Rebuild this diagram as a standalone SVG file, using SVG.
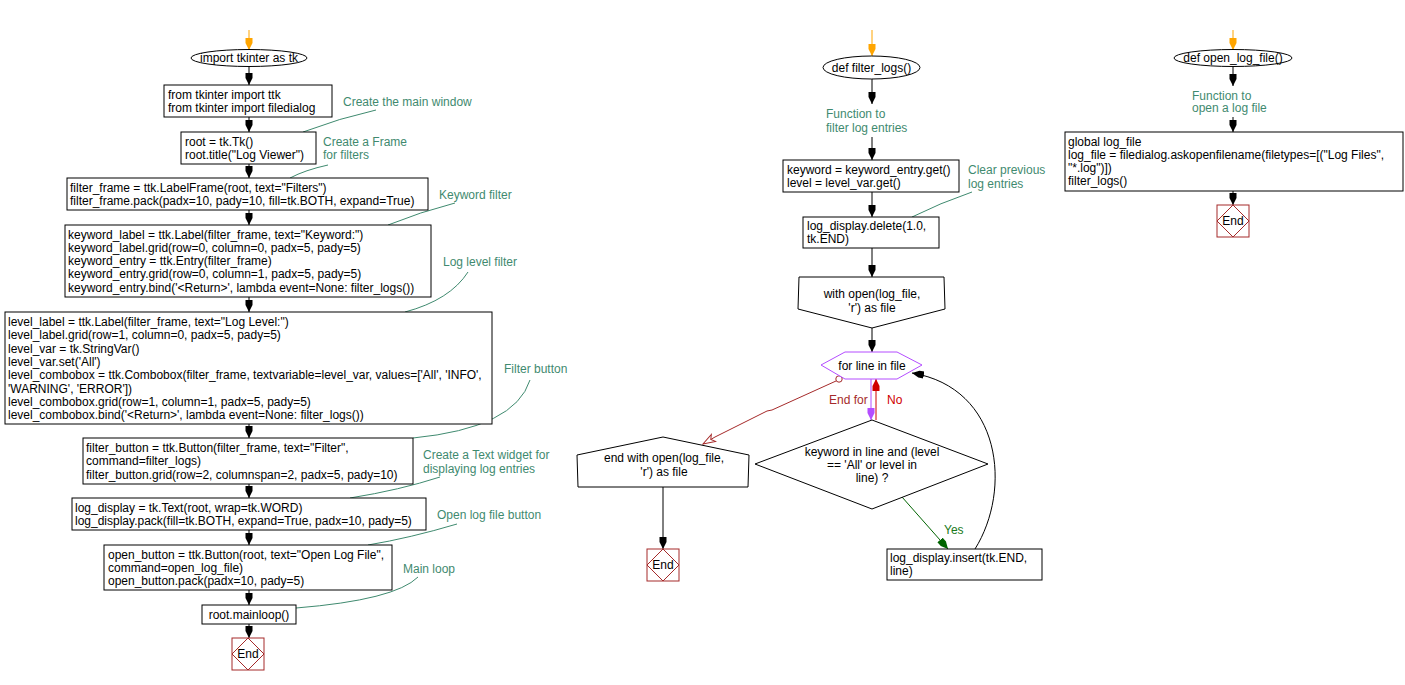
<svg xmlns="http://www.w3.org/2000/svg" width="1405" height="685" viewBox="0 0 1405 685">
<style>
text{font-family:"Liberation Sans",Arial,sans-serif;font-size:12px;fill:#000}
.box{fill:#fff;stroke:#000;stroke-width:1}
.cm{fill:#3f8a6f}
.cl{fill:none;stroke:#3f8a6f;stroke-width:1}
.ln{fill:none;stroke:#000;stroke-width:1}
.or{fill:none;stroke:#ffa500;stroke-width:1}
.endbox{fill:#fff;stroke:#a52a2a;stroke-width:1}
.enddia{fill:none;stroke:#a52a2a;stroke-width:1}
.mid{text-anchor:middle}
</style>
<defs>
<marker id="ah" markerUnits="userSpaceOnUse" viewBox="0 -5 13 10" markerWidth="13" markerHeight="10" refX="12" refY="0" orient="auto"><path d="M0,-3.5 L5,-3.5 L12,0 L5,3.5 L0,3.5 Z" fill="#000"/></marker>
<marker id="aho" markerUnits="userSpaceOnUse" viewBox="0 -5 13 10" markerWidth="13" markerHeight="10" refX="12" refY="0" orient="auto"><path d="M0,-3.5 L5,-3.5 L12,0 L5,3.5 L0,3.5 Z" fill="#ffa500"/></marker>
<marker id="ahp" markerUnits="userSpaceOnUse" viewBox="0 -5 13 10" markerWidth="13" markerHeight="10" refX="12" refY="0" orient="auto"><path d="M0,-3.5 L5,-3.5 L12,0 L5,3.5 L0,3.5 Z" fill="#b44dff"/></marker>
<marker id="ahr" markerUnits="userSpaceOnUse" viewBox="0 -5 13 10" markerWidth="13" markerHeight="10" refX="12" refY="0" orient="auto"><path d="M0,-3.5 L5,-3.5 L12,0 L5,3.5 L0,3.5 Z" fill="#d00000"/></marker>
<marker id="ahg" markerUnits="userSpaceOnUse" viewBox="0 -5 13 10" markerWidth="13" markerHeight="10" refX="12" refY="0" orient="auto"><path d="M0,-3.5 L5,-3.5 L12,0 L5,3.5 L0,3.5 Z" fill="#006400"/></marker>
<marker id="ahb" markerUnits="userSpaceOnUse" viewBox="0 -6 14 12" markerWidth="14" markerHeight="12" refX="13" refY="0" orient="auto"><path d="M1,-4 L13,0 L1,4 L4,0 Z" fill="#fff" stroke="#a52a2a" stroke-width="1"/></marker>
</defs>

<g id="connectors">
<!-- left column -->
<path class="or" d="M249,30 L249,50" marker-end="url(#aho)"/>
<path class="ln" d="M249,66 L249,85" marker-end="url(#ah)"/>
<path class="ln" d="M249,117 L249,132" marker-end="url(#ah)"/>
<path class="ln" d="M249,164 L249,178" marker-end="url(#ah)"/>
<path class="ln" d="M249,210 L249,225" marker-end="url(#ah)"/>
<path class="ln" d="M249,297 L249,312" marker-end="url(#ah)"/>
<path class="ln" d="M249,424 L249,438" marker-end="url(#ah)"/>
<path class="ln" d="M249,484 L249,498" marker-end="url(#ah)"/>
<path class="ln" d="M249,530 L249,545" marker-end="url(#ah)"/>
<path class="ln" d="M249,590 L249,605" marker-end="url(#ah)"/>
<path class="ln" d="M249,624 L249,638" marker-end="url(#ah)"/>
<!-- comment lines left -->
<path class="cl" d="M376,110 Q340,118 303,132"/>
<path class="cl" d="M328,165 Q305,170 290,178"/>
<path class="cl" d="M455,203 Q420,212 388,225"/>
<path class="cl" d="M468,272 Q450,300 405,312"/>
<path class="cl" d="M530,380 Q515,428 413,438"/>
<path class="cl" d="M440,477 Q400,490 350,498"/>
<path class="cl" d="M457,524 Q410,538 368,545"/>
<path class="cl" d="M418,577 Q395,600 296,608"/>
<!-- middle column -->
<path class="or" d="M872,30 L872,56" marker-end="url(#aho)"/>
<path class="ln" d="M872,79 L872,104" marker-end="url(#ah)"/>
<path class="ln" d="M872,137 L872,160" marker-end="url(#ah)"/>
<path class="cl" d="M972,192 Q940,203 912,217"/>
<path class="ln" d="M872,192 L872,217" marker-end="url(#ah)"/>
<path class="ln" d="M872,248 L872,277" marker-end="url(#ah)"/>
<path class="ln" d="M872,328 L872,352" marker-end="url(#ah)"/>
<path fill="none" stroke="#b44dff" d="M871,379 L871,420" marker-end="url(#ahp)"/>
<path fill="none" stroke="#d00000" d="M876,420 L876,379" marker-end="url(#ahr)"/>
<path fill="none" stroke="#006400" d="M902,497 L948,549" marker-end="url(#ahg)"/>
<path class="ln" d="M975,549 C1012,490 1002,388 912,373" marker-end="url(#ah)"/>
<path fill="none" stroke="#a52a2a" d="M836,381 L772,410 L767,411 L715,437 L703,444" marker-end="url(#ahb)"/>
<circle cx="839" cy="379" r="3.2" fill="#fff" stroke="#a52a2a"/>
<path class="ln" d="M663,487 L663,549" marker-end="url(#ah)"/>
<!-- right column -->
<path class="or" d="M1233,30 L1233,50" marker-end="url(#aho)"/>
<path class="ln" d="M1233,67 L1233,86" marker-end="url(#ah)"/>
<path class="ln" d="M1233,117 L1233,132" marker-end="url(#ah)"/>
<path class="ln" d="M1233,191 L1233,205" marker-end="url(#ah)"/>
</g>

<!-- left column nodes -->
<g id="start1"><ellipse class="box" cx="249" cy="58" rx="58" ry="8.5"/><text class="mid" x="249" y="62">import tkinter as tk</text></g>
<g id="n1"><rect class="box" x="164" y="85" width="168" height="32"/><text x="168" y="98.5">from tkinter import ttk</text><text x="168" y="111.8">from tkinter import filedialog</text></g>
<g id="c1"><text class="cm" x="343" y="106">Create the main window</text></g>
<g id="n2"><rect class="box" x="181" y="132" width="135" height="32"/><text x="185" y="145.5">root = tk.Tk()</text><text x="185" y="158.8">root.title("Log Viewer")</text></g>
<g id="c2"><text class="cm" x="323" y="146">Create a Frame</text><text class="cm" x="323" y="159">for filters</text></g>
<g id="n3"><rect class="box" x="67" y="178" width="361" height="32"/><text x="70" y="191.5">filter_frame = ttk.LabelFrame(root, text="Filters")</text><text x="70" y="204.8">filter_frame.pack(padx=10, pady=10, fill=tk.BOTH, expand=True)</text></g>
<g id="c3"><text class="cm" x="439" y="199">Keyword filter</text></g>
<g id="n4"><rect class="box" x="65" y="225" width="366" height="72"/>
<text x="68" y="238.5">keyword_label = ttk.Label(filter_frame, text="Keyword:")</text>
<text x="68" y="251.8">keyword_label.grid(row=0, column=0, padx=5, pady=5)</text>
<text x="68" y="265.1">keyword_entry = ttk.Entry(filter_frame)</text>
<text x="68" y="278.4">keyword_entry.grid(row=0, column=1, padx=5, pady=5)</text>
<text x="68" y="291.7">keyword_entry.bind('&lt;Return&gt;', lambda event=None: filter_logs())</text></g>
<g id="c4"><text class="cm" x="443" y="266">Log level filter</text></g>
<g id="n5"><rect class="box" x="5" y="312" width="487" height="112"/>
<text x="8" y="326">level_label = ttk.Label(filter_frame, text="Log Level:")</text>
<text x="8" y="339.3">level_label.grid(row=1, column=0, padx=5, pady=5)</text>
<text x="8" y="352.6">level_var = tk.StringVar()</text>
<text x="8" y="365.9">level_var.set('All')</text>
<text x="8" y="379.2">level_combobox = ttk.Combobox(filter_frame, textvariable=level_var, values=['All', 'INFO',</text>
<text x="8" y="392.5">'WARNING', 'ERROR'])</text>
<text x="8" y="405.8">level_combobox.grid(row=1, column=1, padx=5, pady=5)</text>
<text x="8" y="419.1">level_combobox.bind('&lt;Return&gt;', lambda event=None: filter_logs())</text></g>
<g id="c5"><text class="cm" x="504" y="373">Filter button</text></g>
<g id="n6"><rect class="box" x="83" y="438" width="330" height="46"/>
<text x="86" y="452">filter_button = ttk.Button(filter_frame, text="Filter",</text>
<text x="86" y="465.3">command=filter_logs)</text>
<text x="86" y="478.6">filter_button.grid(row=2, columnspan=2, padx=5, pady=10)</text></g>
<g id="c6"><text class="cm" x="423" y="459">Create a Text widget for</text><text class="cm" x="423" y="473">displaying log entries</text></g>
<g id="n7"><rect class="box" x="72" y="498" width="354" height="32"/>
<text x="75" y="511.5">log_display = tk.Text(root, wrap=tk.WORD)</text>
<text x="75" y="524.8">log_display.pack(fill=tk.BOTH, expand=True, padx=10, pady=5)</text></g>
<g id="c7"><text class="cm" x="437" y="519">Open log file button</text></g>
<g id="n8"><rect class="box" x="104" y="545" width="288" height="45"/>
<text x="108" y="558.5">open_button = ttk.Button(root, text="Open Log File",</text>
<text x="108" y="571.8">command=open_log_file)</text>
<text x="108" y="585.1">open_button.pack(padx=10, pady=5)</text></g>
<g id="c8"><text class="cm" x="403" y="573">Main loop</text></g>
<g id="n9"><rect class="box" x="202" y="605" width="94" height="19"/><text class="mid" x="249" y="619">root.mainloop()</text></g>
<g id="end1"><rect class="endbox" x="232" y="638" width="32" height="32"/><path class="enddia" d="M248,638 L264,654 L248,670 L232,654 Z"/><text class="mid" x="248" y="658">End</text></g>

<!-- middle column nodes -->
<g id="start2"><ellipse class="box" cx="871.5" cy="67.5" rx="48.5" ry="11.5"/><text class="mid" x="871.5" y="71.5">def filter_logs()</text></g>
<g id="c9"><text class="cm" x="826" y="118">Function to</text><text class="cm" x="826" y="132">filter log entries</text></g>
<g id="m1"><rect class="box" x="783" y="160" width="176" height="32"/><text x="787" y="173.5">keyword = keyword_entry.get()</text><text x="787" y="186.8">level = level_var.get()</text></g>
<g id="c10"><text class="cm" x="968" y="174">Clear previous</text><text class="cm" x="968" y="188">log entries</text></g>
<g id="m2"><rect class="box" x="803" y="217" width="136" height="31"/><text x="807" y="230">log_display.delete(1.0,</text><text x="807" y="243.3">tk.END)</text></g>
<g id="m3"><path class="box" d="M799,277 L944,277 L945,309 L872,328 L798,309 Z"/><text class="mid" x="872" y="298">with open(log_file,</text><text class="mid" x="872" y="311.5">'r') as file</text></g>
<g id="m4"><path fill="#fff" stroke="#b44dff" d="M821,365 L845,352 L897,352 L922,365 L897,379 L845,379 Z"/><text class="mid" x="872" y="369.5">for line in file</text></g>
<g id="lbl"><text x="829" y="404" fill="#a52a2a" style="fill:#a52a2a">End for</text><text x="887" y="404" style="fill:#d00000">No</text><text x="944" y="534" style="fill:#1a7a1a">Yes</text></g>
<g id="m5"><path class="box" d="M872,420 L988,464 L872,509 L755,464 Z"/><text class="mid" x="872" y="456">keyword in line and (level</text><text class="mid" x="872" y="469">== 'All' or level in</text><text class="mid" x="872" y="482">line) ?</text></g>
<g id="m6"><rect class="box" x="887" y="549" width="155" height="31"/><text x="890" y="562">log_display.insert(tk.END,</text><text x="890" y="575.3">line)</text></g>
<g id="m7"><path class="box" d="M577,455 L663,437 L749,455 L748,487 L578,487 Z"/><text class="mid" x="664" y="462">end with open(log_file,</text><text class="mid" x="664" y="475.5">'r') as file</text></g>
<g id="end2"><rect class="endbox" x="647" y="549" width="32" height="32"/><path class="enddia" d="M663,549 L679,565 L663,581 L647,565 Z"/><text class="mid" x="663" y="569">End</text></g>

<!-- right column nodes -->
<g id="start3"><ellipse class="box" cx="1233" cy="58" rx="59" ry="8.5"/><text class="mid" x="1233" y="62">def open_log_file()</text></g>
<g id="c11"><text class="cm" x="1192" y="100">Function to</text><text class="cm" x="1192" y="112">open a log file</text></g>
<g id="r1"><rect class="box" x="1065" y="132" width="338" height="59"/>
<text x="1068" y="145.5">global log_file</text>
<text x="1068" y="158.8">log_file = filedialog.askopenfilename(filetypes=[("Log Files",</text>
<text x="1068" y="172.1">"*.log")])</text>
<text x="1068" y="185.4">filter_logs()</text></g>
<g id="end3"><rect class="endbox" x="1217" y="205" width="32" height="32"/><path class="enddia" d="M1233,205 L1249,221 L1233,237 L1217,221 Z"/><text class="mid" x="1233" y="225">End</text></g>
</svg>
